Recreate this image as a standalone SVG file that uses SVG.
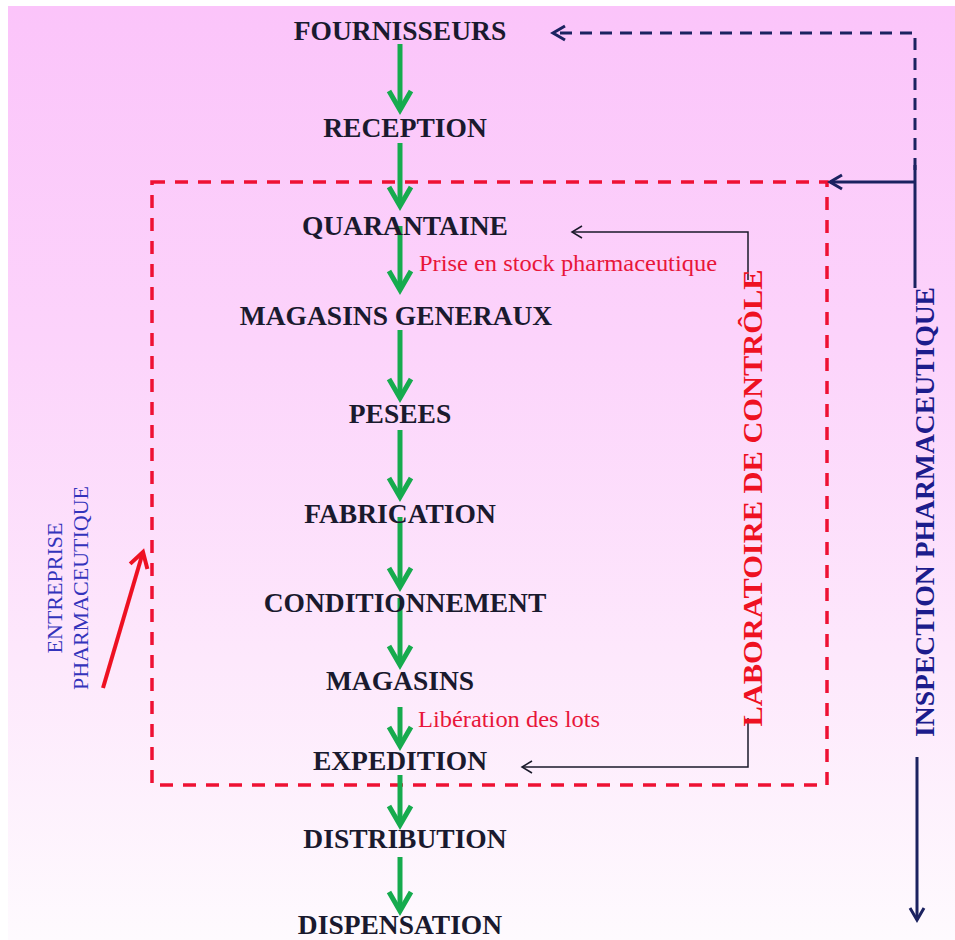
<svg xmlns="http://www.w3.org/2000/svg" width="955" height="940" viewBox="0 0 955 940">
<defs>
<linearGradient id="bg" x1="0" y1="0" x2="0" y2="1">
<stop offset="0" stop-color="#fbc4fa"/>
<stop offset="0.35" stop-color="#fcd3fb"/>
<stop offset="0.7" stop-color="#fde8fc"/>
<stop offset="1" stop-color="#fefafe"/>
</linearGradient>
<marker id="mg" markerUnits="userSpaceOnUse" viewBox="-25 -15 30 30" markerWidth="30" markerHeight="30" refX="0" refY="0" orient="auto" overflow="visible">
<path d="M-19,-11 L0,0 L-19,11" fill="none" stroke="#16ab4e" stroke-width="5"/>
</marker>
<marker id="mr" markerUnits="userSpaceOnUse" viewBox="-25 -15 30 30" markerWidth="30" markerHeight="30" refX="0" refY="0" orient="auto" overflow="visible">
<path d="M-15,-9 L0,0 L-15,9" fill="none" stroke="#ee1122" stroke-width="4"/>
</marker>
<marker id="mn" markerUnits="userSpaceOnUse" viewBox="-25 -15 30 30" markerWidth="30" markerHeight="30" refX="0" refY="0" orient="auto" overflow="visible">
<path d="M-12,-7 L0,0 L-12,7" fill="none" stroke="#1b2260" stroke-width="3"/>
</marker>
<marker id="mb" markerUnits="userSpaceOnUse" viewBox="-25 -15 30 30" markerWidth="30" markerHeight="30" refX="0" refY="0" orient="auto" overflow="visible">
<path d="M-10,-6 L0,0 L-10,6" fill="none" stroke="#1a1a2a" stroke-width="1.5"/>
</marker>
</defs>
<style>
.n{font-family:"Liberation Serif","Times New Roman",serif;font-weight:bold;font-size:27.5px;fill:#1a1a2e;text-anchor:middle}
.r{font-family:"Liberation Serif","Times New Roman",serif;font-size:24px;fill:#e8163a}
.g{fill:none;stroke:#16ab4e;stroke-width:5;marker-end:url(#mg)}
.nv{fill:none;stroke:#1b2260;stroke-width:3}
.bk{fill:none;stroke:#1a1a2a;stroke-width:1.5;marker-end:url(#mb)}
</style>
<rect x="0" y="0" width="955" height="940" fill="#ffffff"/>
<rect x="8" y="6" width="947" height="934" fill="url(#bg)"/>

<g id="enterprise">
<rect x="152" y="182" width="675" height="603" fill="none" stroke="#ee1133" stroke-width="3.5" stroke-dasharray="13 10"/>
<g font-family="Liberation Serif, Times New Roman, serif" font-size="22" fill="#3333bb" text-anchor="middle">
<text transform="translate(62,588) rotate(-90)">ENTREPRISE</text>
<text transform="translate(88,588) rotate(-90)">PHARMACEUTIQUE</text>
</g>
</g>

<g id="connectors">
<path class="g" d="M400,44 L400,110"/>
<path class="g" d="M400,143 L400,206"/>
<path class="g" d="M400,226 L400,290"/>
<path class="g" d="M400,330 L400,398"/>
<path class="g" d="M400,430 L400,497"/>
<path class="g" d="M400,517 L400,587"/>
<path class="g" d="M400,598 L400,665"/>
<path class="g" d="M400,707 L400,746"/>
<path class="g" d="M400,775 L400,825"/>
<path class="g" d="M400,857 L400,911"/>
<path d="M103,688 L143,552" fill="none" stroke="#ee1122" stroke-width="4" marker-end="url(#mr)"/>
<path class="bk" d="M748,280 L748,232 L572,232"/>
<path class="bk" d="M748,718 L748,767 L522,767"/>
<path class="nv" d="M915,170 L915,33 L553,33" stroke-dasharray="12 8" marker-end="url(#mn)"/>
<path class="nv" d="M915,165 L915,288"/>
<path class="nv" d="M915,182 L830,182" marker-end="url(#mn)"/>
<path class="nv" d="M917,757 L917,920" marker-end="url(#mn)"/>
</g>

<g id="fournisseurs"><text class="n" x="400" y="40">FOURNISSEURS</text></g>
<g id="reception"><text class="n" x="405" y="137">RECEPTION</text></g>
<g id="quarantaine"><text class="n" x="405" y="235">QUARANTAINE</text></g>
<g id="magasins-generaux"><text class="n" x="396" y="325">MAGASINS GENERAUX</text></g>
<g id="pesees"><text class="n" x="400" y="423">PESEES</text></g>
<g id="fabrication"><text class="n" x="400" y="523">FABRICATION</text></g>
<g id="conditionnement"><text class="n" x="405" y="612">CONDITIONNEMENT</text></g>
<g id="magasins"><text class="n" x="400" y="690">MAGASINS</text></g>
<g id="expedition"><text class="n" x="400" y="770">EXPEDITION</text></g>
<g id="distribution"><text class="n" x="405" y="848">DISTRIBUTION</text></g>
<g id="dispensation"><text class="n" x="400" y="934">DISPENSATION</text></g>

<g id="labels">
<text class="r" x="419" y="271" textLength="298" lengthAdjust="spacingAndGlyphs">Prise en stock pharmaceutique</text>
<text class="r" x="418" y="727" textLength="182" lengthAdjust="spacingAndGlyphs">Libération des lots</text>
</g>

<g id="laboratoire">
<text transform="translate(762,498) rotate(-90)" font-family="Liberation Serif, Times New Roman, serif" font-weight="bold" font-size="28" fill="#ee1122" text-anchor="middle" textLength="457" lengthAdjust="spacingAndGlyphs">LABORATOIRE DE CONTRÔLE</text>
</g>

<g id="inspection">
<text transform="translate(934,512) rotate(-90)" font-family="Liberation Serif, Times New Roman, serif" font-weight="bold" font-size="27.5" fill="#1c1c8c" text-anchor="middle" textLength="450" lengthAdjust="spacingAndGlyphs">INSPECTION PHARMACEUTIQUE</text>
</g>
</svg>
